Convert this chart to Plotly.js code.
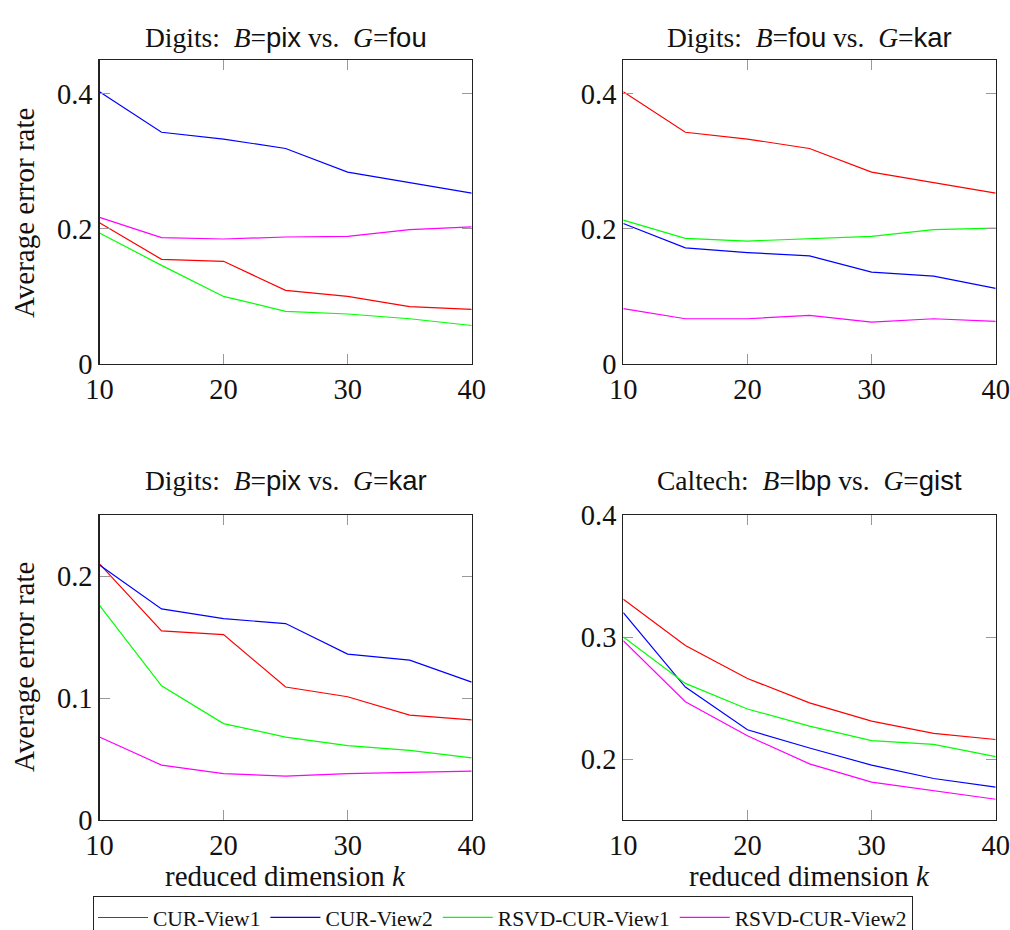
<!DOCTYPE html>
<html>
<head>
<meta charset="utf-8">
<script src="https://cdn.plot.ly/plotly-3.0.1.min.js"></script>
<style>html,body{margin:0;padding:0;background:#fff;overflow:hidden;}</style>
</head>
<body>
<div id="chart" style="width:1010px;height:960px;"></div>
<script>
// ---- data ----
const kValues = [10, 15, 20, 25, 30, 35, 40];
const seriesNames = ["CUR-View1", "CUR-View2", "RSVD-CUR-View1", "RSVD-CUR-View2"];
const seriesColors = ["#ff0000", "#0000ff", "#00ff00", "#ff00ff"];

// Digits: B=pix vs. G=fou
const pixFouCur1  = [0.209, 0.155, 0.152, 0.109, 0.100, 0.085, 0.081];
const pixFouCur2  = [0.403, 0.343, 0.333, 0.319, 0.284, 0.268, 0.253];
const pixFouRsvd1 = [0.194, 0.146, 0.100, 0.078, 0.074, 0.067, 0.057];
const pixFouRsvd2 = [0.217, 0.187, 0.185, 0.188, 0.189, 0.199, 0.203];

// Digits: B=fou vs. G=kar
const fouKarCur1  = [0.403, 0.343, 0.333, 0.319, 0.284, 0.268, 0.253];
const fouKarCur2  = [0.208, 0.172, 0.165, 0.160, 0.136, 0.130, 0.112];
const fouKarRsvd1 = [0.213, 0.186, 0.182, 0.185, 0.189, 0.199, 0.201];
const fouKarRsvd2 = [0.082, 0.067, 0.067, 0.072, 0.062, 0.067, 0.063];

// Digits: B=pix vs. G=kar
const pixKarCur1  = [0.210, 0.155, 0.152, 0.109, 0.101, 0.086, 0.082];
const pixKarCur2  = [0.209, 0.173, 0.165, 0.161, 0.136, 0.131, 0.113];
const pixKarRsvd1 = [0.176, 0.110, 0.079, 0.068, 0.061, 0.057, 0.051];
const pixKarRsvd2 = [0.068, 0.045, 0.038, 0.036, 0.038, 0.039, 0.040];

// Caltech: B=lbp vs. G=gist
const lbpGistCur1  = [0.331, 0.293, 0.266, 0.246, 0.231, 0.221, 0.216];
const lbpGistCur2  = [0.320, 0.259, 0.224, 0.209, 0.195, 0.184, 0.177];
const lbpGistRsvd1 = [0.300, 0.262, 0.241, 0.227, 0.215, 0.212, 0.202];
const lbpGistRsvd2 = [0.297, 0.247, 0.219, 0.196, 0.181, 0.174, 0.167];

const xTicks = [10, 20, 30, 40];
const yTicksTop = [0, 0.2, 0.4];
const yTicksPixKar = [0, 0.1, 0.2];
const yTicksCaltech = [0.2, 0.3, 0.4];

// ---- build ----
const panels = [
  {data: [pixFouCur1, pixFouCur2, pixFouRsvd1, pixFouRsvd2], xa: "x", ya: "y"},
  {data: [fouKarCur1, fouKarCur2, fouKarRsvd1, fouKarRsvd2], xa: "x2", ya: "y2"},
  {data: [pixKarCur1, pixKarCur2, pixKarRsvd1, pixKarRsvd2], xa: "x3", ya: "y3"},
  {data: [lbpGistCur1, lbpGistCur2, lbpGistRsvd1, lbpGistRsvd2], xa: "x4", ya: "y4"}
];

const traces = [];
panels.forEach((p, pi) => {
  p.data.forEach((vals, si) => {
    traces.push({
      x: kValues, y: vals, xaxis: p.xa, yaxis: p.ya,
      type: "scatter", mode: "lines",
      name: seriesNames[si],
      legendgroup: seriesNames[si],
      showlegend: pi === 0,
      line: {color: seriesColors[si], width: 1.2}
    });
  });
});

const serif = "'Liberation Serif', 'Times New Roman', serif";
const sans = "'Liberation Sans', Arial, sans-serif";

function xAxis(domain, anchor) {
  return {
    domain: domain, anchor: anchor, range: [10, 40],
    tickvals: xTicks, ticktext: xTicks.map(String),
    ticks: "inside", ticklen: 10, tickcolor: "#999", tickwidth: 1,
    showline: true, linecolor: "#222", linewidth: 1.2, mirror: "ticks",
    showgrid: false, zeroline: false,
    tickfont: {family: serif, size: 28.5, color: "#111"},
    automargin: false
  };
}
function yAxis(domain, anchor, range, ticks) {
  return {
    domain: domain, anchor: anchor, range: range,
    tickvals: ticks, ticktext: ticks.map(String),
    ticks: "inside", ticklen: 10, tickcolor: "#999", tickwidth: 1,
    showline: true, linecolor: "#222", linewidth: 1.2, mirror: "ticks",
    showgrid: false, zeroline: false,
    tickfont: {family: serif, size: 28.5, color: "#111"},
    automargin: false
  };
}

// paper is a bit taller than the 930px window so the legend box runs off the bottom edge
const W = 1010, H = 960;
const xd1 = [99.5 / W, 471.7 / W];
const xd2 = [623.3 / W, 995.7 / W];
const ydTop = [1 - 364 / H, 1 - 60 / H];
const ydBot = [1 - 820 / H, 1 - 515 / H];

function title(txt, x, yPx) {
  return {text: txt, x: x, y: 1 - yPx / H, xref: "paper", yref: "paper",
    xanchor: "center", yanchor: "middle", showarrow: false,
    font: {family: serif, size: 27.5, color: "#111"}};
}
const sf = (t) => '<span style="font-family:' + sans + '">' + t + '</span>';

const annotations = [
  title("Digits:  <i>B</i>=" + sf("pix") + " vs.  <i>G</i>=" + sf("fou"), (xd1[0] + xd1[1]) / 2, 37),
  title("Digits:  <i>B</i>=" + sf("fou") + " vs.  <i>G</i>=" + sf("kar"), (xd2[0] + xd2[1]) / 2, 37),
  title("Digits:  <i>B</i>=" + sf("pix") + " vs.  <i>G</i>=" + sf("kar"), (xd1[0] + xd1[1]) / 2, 480),
  title("Caltech:  <i>B</i>=" + sf("lbp") + " vs.  <i>G</i>=" + sf("gist"), (xd2[0] + xd2[1]) / 2, 480),
  {text: "Average error rate", x: 24 / W, y: 1 - 213 / H, xref: "paper", yref: "paper",
    xanchor: "center", yanchor: "middle", textangle: -90, showarrow: false,
    font: {family: serif, size: 29, color: "#111"}},
  {text: "Average error rate", x: 24 / W, y: 1 - 667 / H, xref: "paper", yref: "paper",
    xanchor: "center", yanchor: "middle", textangle: -90, showarrow: false,
    font: {family: serif, size: 29, color: "#111"}},
  {text: "reduced dimension <i>k</i>", x: (xd1[0] + xd1[1]) / 2, y: 1 - 876 / H, xref: "paper", yref: "paper",
    xanchor: "center", yanchor: "middle", showarrow: false,
    font: {family: serif, size: 29, color: "#111"}},
  {text: "reduced dimension <i>k</i>", x: (xd2[0] + xd2[1]) / 2, y: 1 - 876 / H, xref: "paper", yref: "paper",
    xanchor: "center", yanchor: "middle", showarrow: false,
    font: {family: serif, size: 29, color: "#111"}}
];

const layout = {
  width: W, height: H,
  margin: {l: 0, r: 0, t: 0, b: 0},
  paper_bgcolor: "#fff", plot_bgcolor: "#fff",
  showlegend: true,
  legend: {
    orientation: "h", x: 503 / W, xanchor: "center", y: 1 - 896 / H, yanchor: "top",
    bordercolor: "#222", borderwidth: 1, bgcolor: "#fff",
    font: {family: serif, size: 21.5, color: "#111"},
    itemwidth: 50, tracegroupgap: 0
  },
  xaxis: xAxis(xd1, "y"),
  yaxis: yAxis(ydTop, "x", [0, 0.45], yTicksTop),
  xaxis2: xAxis(xd2, "y2"),
  yaxis2: yAxis(ydTop, "x2", [0, 0.45], yTicksTop),
  xaxis3: xAxis(xd1, "y3"),
  yaxis3: yAxis(ydBot, "x3", [0, 0.25], yTicksPixKar),
  xaxis4: xAxis(xd2, "y4"),
  yaxis4: yAxis(ydBot, "x4", [0.15, 0.4], yTicksCaltech),
  annotations: annotations
};

Plotly.newPlot("chart", traces, layout, {staticPlot: true, displayModeBar: false});
</script>
</body>
</html>
